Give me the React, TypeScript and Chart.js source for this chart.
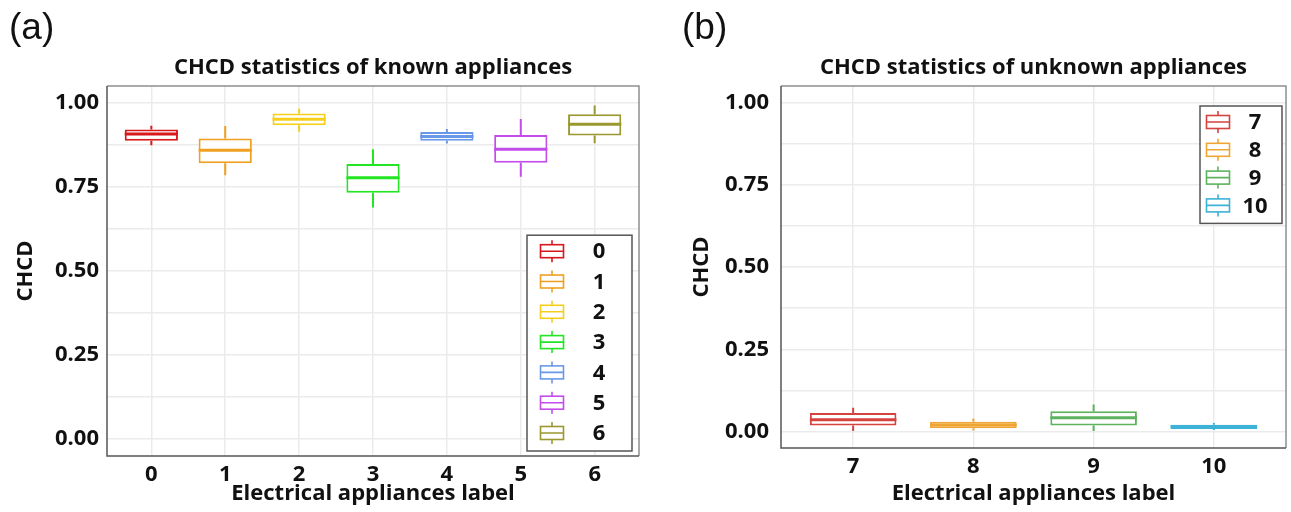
import React, { useEffect, useRef } from 'react';
import { Chart, registerables } from 'chart.js';

Chart.register(...registerables);

// ---------- data: panel (a) known appliances ----------
const knownLabels = ['0', '1', '2', '3', '4', '5', '6'];
const knownLow = [0.874, 0.785, 0.914, 0.689, 0.879, 0.78, 0.88];
const knownQ1 = [0.887, 0.82, 0.933, 0.733, 0.887, 0.822, 0.903];
const knownMedian = [0.907, 0.859, 0.951, 0.777, 0.9, 0.862, 0.936];
const knownQ3 = [0.921, 0.894, 0.968, 0.818, 0.913, 0.904, 0.966];
const knownHigh = [0.932, 0.931, 0.982, 0.862, 0.922, 0.952, 0.992];
const knownColors = ['#D7191C', '#F0A020', '#F5CF1B', '#22E622', '#6A98E8', '#C44CEB', '#9A982E'];

// ---------- data: panel (b) unknown appliances ----------
const unknownLabels = ['7', '8', '9', '10'];
const unknownLow = [0.002, 0.003, 0.002, 0.005];
const unknownQ1 = [0.018, 0.01, 0.018, 0.008];
const unknownMedian = [0.036, 0.02, 0.042, 0.015];
const unknownQ3 = [0.056, 0.03, 0.062, 0.021];
const unknownHigh = [0.072, 0.04, 0.082, 0.026];
const unknownColors = ['#D5433F', '#EFA534', '#5DB35D', '#3CB2D6'];

const yMin = -0.05;
const yMax = 1.05;
const yStep = 0.125;

const FONT = "'Open Sans', 'Noto Sans', sans-serif";
const TEXT = '#111111';
const FS = 22;

type Layout = {
  width: number;
  height: number;
  area: { left: number; right: number; top: number; bottom: number };
  tagX: number;
  yTitlePad: number;
  yTickPad: number;
  legend: { right: number; top?: number; bottom?: number; width: number; rowH: number; glyphX: number; textX: number };
};

type Panel = {
  tag: string;
  title: string;
  labels: string[];
  low: number[];
  q1: number[];
  median: number[];
  q3: number[];
  high: number[];
  colors: string[];
  layout: Layout;
};

const panelA: Panel = {
  tag: '(a)',
  title: 'CHCD statistics of known appliances',
  labels: knownLabels,
  low: knownLow,
  q1: knownQ1,
  median: knownMedian,
  q3: knownQ3,
  high: knownHigh,
  colors: knownColors,
  layout: {
    width: 660,
    height: 512,
    area: { left: 107, right: 639, top: 86, bottom: 456 },
    tagX: 9,
    yTitlePad: 13,
    yTickPad: 8,
    legend: { right: 7, bottom: 5, width: 105, rowH: 30.3, glyphX: 25, textX: 72 },
  },
};

const panelB: Panel = {
  tag: '(b)',
  title: 'CHCD statistics of unknown appliances',
  labels: unknownLabels,
  low: unknownLow,
  q1: unknownQ1,
  median: unknownMedian,
  q3: unknownQ3,
  high: unknownHigh,
  colors: unknownColors,
  layout: {
    width: 631,
    height: 512,
    area: { left: 121, right: 626, top: 86, bottom: 448 },
    tagX: 22,
    yTitlePad: 29,
    yTickPad: 12,
    legend: { right: 4, top: 20, width: 82, rowH: 27.8, glyphX: 18, textX: 55 },
  },
};

function panelPlugin(p: Panel) {
  const L = p.layout;
  return {
    id: 'panelExtras',
    beforeDraw(chart: any) {
      const ctx = chart.ctx;
      ctx.save();
      ctx.fillStyle = '#ffffff';
      ctx.fillRect(0, 0, chart.width, chart.height);
      ctx.restore();
    },
    afterDatasetsDraw(chart: any) {
      const ctx = chart.ctx;
      const ys = chart.scales.y;
      const meta = chart.getDatasetMeta(0);
      p.labels.forEach((_, i) => {
        const el = meta.data[i];
        if (!el) return;
        const { x, width } = el.getProps(['x', 'width'], true);
        ctx.save();
        ctx.strokeStyle = p.colors[i];
        ctx.lineCap = 'butt';
        ctx.lineWidth = 2;
        ctx.beginPath();
        ctx.moveTo(x, ys.getPixelForValue(p.q3[i]));
        ctx.lineTo(x, ys.getPixelForValue(p.high[i]));
        ctx.moveTo(x, ys.getPixelForValue(p.q1[i]));
        ctx.lineTo(x, ys.getPixelForValue(p.low[i]));
        ctx.stroke();
        const ym = ys.getPixelForValue(p.median[i]);
        ctx.lineWidth = 3;
        ctx.beginPath();
        ctx.moveTo(x - width / 2, ym);
        ctx.lineTo(x + width / 2, ym);
        ctx.stroke();
        ctx.restore();
      });
    },
    afterDraw(chart: any) {
      const ctx = chart.ctx;
      const a = chart.chartArea;
      ctx.save();
      // frame
      ctx.lineWidth = 1.5;
      ctx.strokeStyle = '#8f8f8f';
      ctx.beginPath();
      ctx.moveTo(a.left, a.top);
      ctx.lineTo(a.right, a.top);
      ctx.lineTo(a.right, a.bottom);
      ctx.stroke();
      ctx.strokeStyle = '#555555';
      ctx.beginPath();
      ctx.moveTo(a.left, a.top);
      ctx.lineTo(a.left, a.bottom);
      ctx.lineTo(a.right, a.bottom);
      ctx.stroke();

      // legend
      const lg = L.legend;
      const n = p.labels.length;
      const padTop = 16;
      const padBottom = 18;
      const h = padTop + (n - 1) * lg.rowH + padBottom;
      const lx = a.right - lg.right - lg.width;
      const ly = lg.top !== undefined ? a.top + lg.top : a.bottom - (lg.bottom || 0) - h;
      ctx.fillStyle = '#ffffff';
      ctx.fillRect(lx, ly, lg.width, h);
      ctx.strokeStyle = '#555555';
      ctx.lineWidth = 1.5;
      ctx.strokeRect(lx, ly, lg.width, h);
      p.labels.forEach((lab, i) => {
        const cy = ly + padTop + i * lg.rowH;
        const gx = lx + lg.glyphX;
        ctx.strokeStyle = p.colors[i];
        ctx.lineWidth = 1.6;
        ctx.strokeRect(gx - 11.5, cy - 6.5, 23, 13);
        ctx.beginPath();
        ctx.moveTo(gx - 11.5, cy);
        ctx.lineTo(gx + 11.5, cy);
        ctx.moveTo(gx, cy - 6.5);
        ctx.lineTo(gx, cy - 11);
        ctx.moveTo(gx, cy + 6.5);
        ctx.lineTo(gx, cy + 11);
        ctx.stroke();
        ctx.fillStyle = TEXT;
        ctx.font = `bold ${FS}px ${FONT}`;
        ctx.textAlign = 'center';
        ctx.textBaseline = 'middle';
        ctx.fillText(lab, lx + lg.textX, cy + 1);
      });

      // chart title
      ctx.fillStyle = TEXT;
      ctx.font = `bold ${FS}px ${FONT}`;
      ctx.textAlign = 'center';
      ctx.textBaseline = 'middle';
      ctx.fillText(p.title, (a.left + a.right) / 2, 68);

      // panel tag
      ctx.font = "37px 'Liberation Sans', Arial, sans-serif";
      ctx.textAlign = 'left';
      ctx.fillText(p.tag, L.tagX, 29);
      ctx.restore();
    },
  };
}

function makeConfig(p: Panel): any {
  const L = p.layout;
  return {
    type: 'bar',
    data: {
      datasets: [
        {
          data: p.labels.map((_, i) => ({ x: i, y: [p.q1[i], p.q3[i]] })),
          backgroundColor: '#ffffff',
          borderColor: p.colors,
          borderWidth: 2,
          borderSkipped: false,
          categoryPercentage: 1,
          barPercentage: 0.72,
        },
      ],
    },
    options: {
      responsive: false,
      animation: false,
      devicePixelRatio: 1,
      events: [],
      layout: { padding: { top: L.area.top, right: L.width - L.area.right, bottom: 0, left: 0 } },
      plugins: {
        legend: { display: false },
        tooltip: { enabled: false },
        title: { display: false },
      },
      scales: {
        x: {
          type: 'linear',
          min: -0.6,
          max: p.labels.length - 1 + 0.6,
          offset: false,
          grid: { color: '#EBEBEB', lineWidth: 1.5, drawTicks: false, offset: false },
          border: { display: false },
          ticks: {
            stepSize: 1,
            includeBounds: false,
            autoSkip: false,
            maxRotation: 0,
            padding: 6,
            color: TEXT,
            font: { family: FONT, size: FS, weight: 'bold' },
            callback: (v: number) => (Number.isInteger(v) && p.labels[v] !== undefined ? p.labels[v] : ''),
          },
          title: {
            display: true,
            text: 'Electrical appliances label',
            color: TEXT,
            font: { family: FONT, size: FS, weight: 'bold' },
            padding: { top: 0, bottom: 5 },
          },
          afterFit: (s: any) => {
            s.height = L.height - L.area.bottom;
          },
        },
        y: {
          type: 'linear',
          min: yMin,
          max: yMax,
          grid: { color: '#EBEBEB', lineWidth: 1.5, drawTicks: false },
          border: { display: false },
          ticks: {
            stepSize: yStep,
            includeBounds: false,
            autoSkip: false,
            padding: L.yTickPad,
            color: TEXT,
            font: { family: FONT, size: FS, weight: 'bold' },
            callback: (v: number) => (Math.abs(v * 4 - Math.round(v * 4)) < 1e-6 ? v.toFixed(2) : ''),
          },
          title: {
            display: true,
            text: 'CHCD',
            color: TEXT,
            font: { family: FONT, size: FS, weight: 'bold' },
            padding: { top: L.yTitlePad, bottom: 0 },
          },
          afterFit: (s: any) => {
            s.width = L.area.left;
          },
        },
      },
    },
    plugins: [panelPlugin(p)],
  };
}

function BoxPanel({ panel, left }: { panel: Panel; left: number }) {
  const ref = useRef<HTMLCanvasElement | null>(null);
  useEffect(() => {
    if (!ref.current) return;
    const chart = new Chart(ref.current, makeConfig(panel));
    return () => chart.destroy();
  }, [panel]);
  return (
    <canvas
      ref={ref}
      width={panel.layout.width}
      height={panel.layout.height}
      style={{
        position: 'absolute',
        left,
        top: 0,
        width: panel.layout.width,
        height: panel.layout.height,
      }}
    />
  );
}

export default function App() {
  return (
    <div
      style={{
        position: 'fixed',
        left: 0,
        top: 0,
        width: 1291,
        height: 512,
        background: '#ffffff',
        overflow: 'hidden',
      }}
    >
      <BoxPanel panel={panelA} left={0} />
      <BoxPanel panel={panelB} left={660} />
    </div>
  );
}
